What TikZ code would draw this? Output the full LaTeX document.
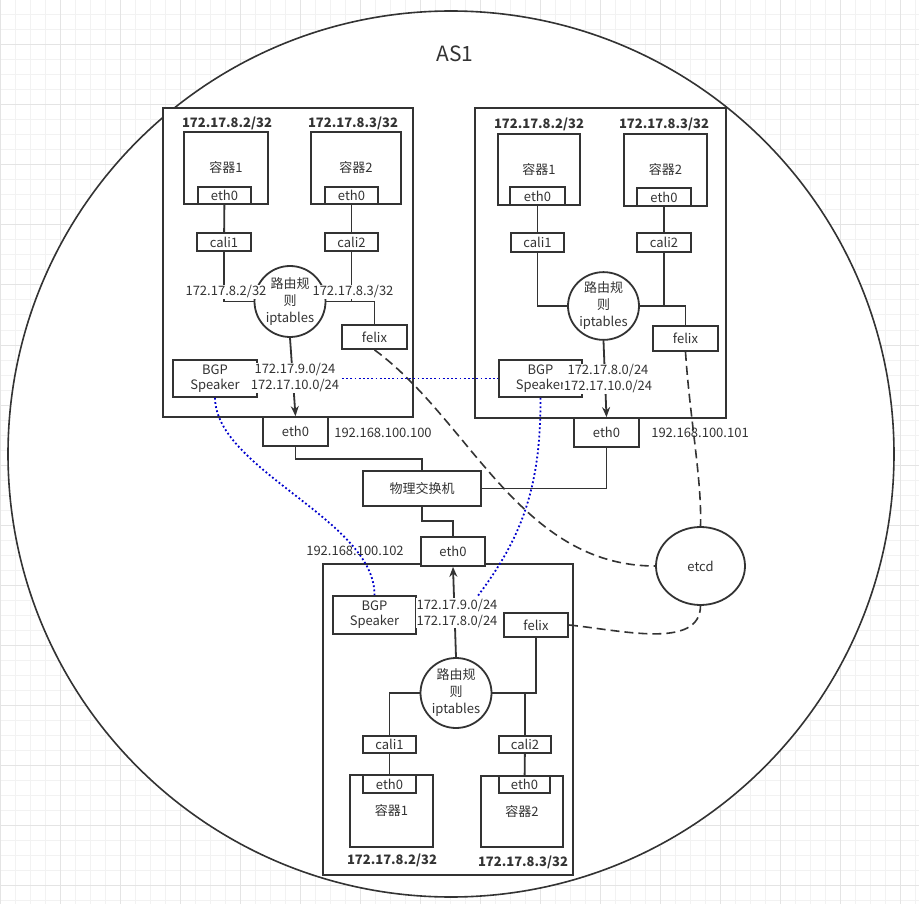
\documentclass[tikz,border=0pt]{standalone}
\usepackage{fontspec}
\setmainfont{Noto Sans CJK SC}
\usetikzlibrary{shapes.geometric,arrows.meta}
\definecolor{ink}{HTML}{333333}
\definecolor{gridlt}{HTML}{F2F2F2}
\definecolor{griddk}{HTML}{E4E4E4}
\definecolor{bgpblue}{HTML}{0000CC}
\begin{document}
\begin{tikzpicture}[x=1pt, y=-1pt,
  every node/.style={text=ink, font=\fontsize{13}{15}\selectfont},
  box/.style={draw=ink, line width=1.8pt, fill=white, inner sep=0pt, align=center},
  hostthin/.style={draw=ink, line width=1.6pt, fill=white},
  hostthick/.style={draw=ink, line width=2.6pt, fill=white},
  rt/.style={box, ellipse, minimum width=71pt, font=\fontsize{13}{17}\selectfont},
  iplbl/.style={font=\bfseries\fontsize{13}{15}\selectfont},
  elbl/.style={fill=white, inner sep=1pt, align=center, font=\fontsize{13}{16}\selectfont},
  wire/.style={draw=ink, line width=1.8pt},
  arr/.style={wire, -{Stealth[length=10pt,width=8pt]}},
  etcdline/.style={draw=ink, line width=1.6pt, dash pattern=on 9pt off 5pt},
  bgpline/.style={draw=bgpblue, line width=1.8pt, dash pattern=on 1.8pt off 2.4pt}]
\useasboundingbox (0,0) rectangle (919,904);
\fill[white] (0,0) rectangle (919,904);
\foreach \gx in {0,15,...,915} \draw[gridlt, line width=1pt] (\gx,0) -- (\gx,904);
\foreach \gy in {0,15,...,900} \draw[gridlt, line width=1pt] (0,\gy) -- (919,\gy);
\foreach \gx in {0,60,...,900} \draw[griddk, line width=1pt] (\gx,0) -- (\gx,904);
\foreach \gy in {45,105,...,885} \draw[griddk, line width=1pt] (0,\gy) -- (919,\gy);
\node[draw=ink, line width=1.6pt, fill=white, circle, minimum size=886pt] (as1) at (451,454){};
\node[font=\fontsize{21}{24}\selectfont] (as1name) at (455,54){AS1};
% host 1
\node[hostthin, minimum width=250pt, minimum height=309pt] (host1) at (288,262.5){};
\node[iplbl] (h1ip1) at (227,123){172.17.8.2/32};
\node[iplbl] (h1ip2) at (353,123){172.17.8.3/32};
\node[box, minimum width=84pt, minimum height=72pt] (h1ctr1) at (226,168){容器1};
\node[box, minimum width=53pt, minimum height=17pt] (h1eth1) at (224.5,195.5){eth0};
\node[box, minimum width=90pt, minimum height=72pt] (h1ctr2) at (356,168){容器2};
\node[box, minimum width=53pt, minimum height=17pt] (h1eth2) at (351.5,195.5){eth0};
\node[box, minimum width=54pt, minimum height=18pt] (h1cali1) at (224,242){cali1};
\node[box, minimum width=53pt, minimum height=18pt] (h1cali2) at (351.5,242){cali2};
\node[rt, minimum height=71pt] (h1rt) at (290,301.5){路由规\\则\\iptables};
\node[box, minimum width=65pt, minimum height=24pt] (h1felix) at (374.5,337){felix};
\node[box, minimum width=84pt, minimum height=37pt] (h1bgp) at (215,378.5){BGP\\Speaker};
\node[box, minimum width=65pt, minimum height=29pt] (h1eth) at (295.5,431.5){eth0};
% host 2
\node[hostthick, minimum width=251pt, minimum height=310pt] (host2) at (600.5,263){};
\node[iplbl] (h2ip1) at (539,124){172.17.8.2/32};
\node[iplbl] (h2ip2) at (664,124){172.17.8.3/32};
\node[box, minimum width=82pt, minimum height=71pt] (h2ctr1) at (539,169.5){容器1};
\node[box, minimum width=55pt, minimum height=18pt] (h2eth1) at (537.5,196){eth0};
\node[box, minimum width=83pt, minimum height=72pt] (h2ctr2) at (665.5,170){容器2};
\node[box, minimum width=54pt, minimum height=18pt] (h2eth2) at (664,197){eth0};
\node[box, minimum width=53pt, minimum height=19pt] (h2cali1) at (537.5,242.5){cali1};
\node[box, minimum width=54pt, minimum height=19pt] (h2cali2) at (664,242.5){cali2};
\node[rt, minimum height=62pt] (h2rt) at (603.5,306){路由规\\则\\iptables};
\node[box, minimum width=65pt, minimum height=25pt] (h2felix) at (685.5,338.5){felix};
\node[box, minimum width=83pt, minimum height=37pt] (h2bgp) at (540.5,378.5){BGP\\Speaker};
\node[box, minimum width=65pt, minimum height=29pt] (h2eth) at (606.5,432.5){eth0};
% host 3
\node[hostthick, minimum width=250pt, minimum height=311pt] (host3) at (448,719.5){};
\node[box, minimum width=64pt, minimum height=29pt] (h3eth) at (453,551.5){eth0};
\node[box, minimum width=83pt, minimum height=38pt] (h3bgp) at (374.5,615){BGP\\Speaker};
\node[box, minimum width=64pt, minimum height=24pt] (h3felix) at (536,625){felix};
\node[rt, minimum height=70pt] (h3rt) at (456,693){路由规\\则\\iptables};
\node[box, minimum width=53pt, minimum height=17pt] (h3cali1) at (389.5,744.5){cali1};
\node[box, minimum width=52pt, minimum height=17pt] (h3cali2) at (525,744.5){cali2};
\node[box, minimum width=83pt, minimum height=72pt] (h3ctr1) at (391.5,811){容器1};
\node[box, minimum width=53pt, minimum height=18pt] (h3eth1) at (389.5,784){eth0};
\node[box, minimum width=82pt, minimum height=71pt] (h3ctr2) at (522,811.5){容器2};
\node[box, minimum width=51pt, minimum height=17pt] (h3eth2) at (524.5,784.5){eth0};
\node[iplbl] (h3ip1) at (392,860){172.17.8.2/32};
\node[iplbl] (h3ip2) at (523,862){172.17.8.3/32};
% switch and etcd
\node[box, minimum width=118pt, minimum height=35pt] (sw) at (422,488.5){物理交换机};
\node[box, ellipse, minimum width=89pt, minimum height=78pt] (etcd) at (700.5,566){etcd};
\coordinate (bgpend) at (477,597);
% wires
\draw[wire](h1eth1) -- (h1cali1);
\draw[wire](h1cali1.south) |- (h1rt.west);
\draw[wire](h1eth2) -- (h1cali2);
\draw[wire](h1cali2.south) |- (h1rt.east);
\draw[wire](h1rt.east) -| (h1felix.north);
\draw[arr](h1rt.south) -- (h1eth.north);
\draw[wire](h1eth.south) -- ++(0,12) -| (sw.north);
\draw[wire](h2eth1) -- (h2cali1);
\draw[wire](h2cali1.south) |- (h2rt.west);
\draw[wire](h2eth2) -- (h2cali2);
\draw[wire](h2cali2.south) |- (h2rt.east);
\draw[wire](h2rt.east) -| (h2felix.north);
\draw[arr](h2rt.south) -- (h2eth.north);
\draw[wire](h2eth.south) |- (sw.east);
\draw[wire](sw.south) -- ++(0,14) -| (h3eth.north);
\draw[arr](h3rt.north) -- (h3eth.south);
\draw[wire](h3rt.west) -| (h3cali1.north);
\draw[wire](h3rt.east) -| (h3cali2.north);
\draw[wire](h3rt.east) -| (h3felix.south);
\draw[wire](h3cali1) -- (h3eth1);
\draw[wire](h3cali2) -- (h3eth2);
\draw[etcdline](h1felix.south) .. controls (470,420) and (520,566) .. (etcd.west);
\draw[etcdline](h2felix.south) .. controls (690,420) and (702,480) .. (etcd.north);
\draw[etcdline](h3felix.east) .. controls (620,630) and (700,650) .. (etcd.south);
\draw[bgpline](h1bgp.east) -- (h2bgp.west);
\draw[bgpline](h1bgp.south) .. controls (216,470) and (375,520) .. (h3bgp.north);
\draw[bgpline](h2bgp.south) .. controls (541,490) and (520,540) .. (bgpend);
% labels on wires
\node[elbl] (h1l1) at (226,292){172.17.8.2/32};
\node[elbl] (h1l2) at (353,292){172.17.8.3/32};
\node[elbl] (h1lr) at (295,378){172.17.9.0/24\\172.17.10.0/24};
\node[elbl] (h2lr) at (608,379){172.17.8.0/24\\172.17.10.0/24};
\node[elbl] (h3lr) at (457,613){172.17.9.0/24\\172.17.8.0/24};
\node (h1addr) at (383,433){192.168.100.100};
\node (h2addr) at (700,433){192.168.100.101};
\node (h3addr) at (355,551){192.168.100.102};
\end{tikzpicture}
\end{document}
